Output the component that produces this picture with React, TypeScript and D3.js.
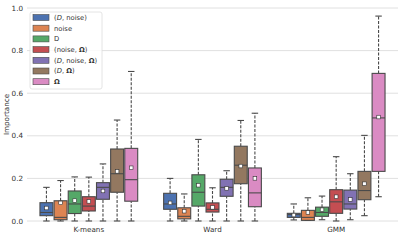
import React, { useEffect, useRef } from 'react';
import * as d3 from 'd3';

const groups = ['K-means', 'Ward', 'GMM'];
const series = ['(D, noise)', 'noise', 'D', '(noise, Ω)', '(D, noise, Ω)', '(D, Ω)', 'Ω'];
const colors = ['#4c72b0', '#dd8452', '#55a868', '#c44e52', '#8172b3', '#937860', '#da8bc3'];
const yTicks = [0, 0.2, 0.4, 0.6, 0.8, 1.0];

// per group, per series: [whiskerLow, q1, median, q3, whiskerHigh, mean]
const kmeansStats = [
  [0, 0.025, 0.04, 0.086, 0.158, 0.061],
  [0, 0.006, 0.017, 0.095, 0.19, 0.085],
  [0, 0.035, 0.08, 0.141, 0.207, 0.096],
  [0, 0.047, 0.07, 0.114, 0.206, 0.092],
  [0, 0.102, 0.158, 0.18, 0.268, 0.141],
  [0, 0.135, 0.222, 0.338, 0.474, 0.233],
  [0, 0.093, 0.194, 0.341, 0.702, 0.25],
];
const wardStats = [
  [0, 0.055, 0.08, 0.13, 0.2, 0.085],
  [0, 0.01, 0.022, 0.062, 0.127, 0.046],
  [0, 0.07, 0.135, 0.217, 0.383, 0.168],
  [0, 0.042, 0.055, 0.085, 0.156, 0.064],
  [0, 0.116, 0.158, 0.196, 0.236, 0.153],
  [0, 0.175, 0.262, 0.351, 0.472, 0.258],
  [0, 0.067, 0.132, 0.249, 0.506, 0.2],
];
const gmmStats = [
  [0.005, 0.017, 0.03, 0.036, 0.08, 0.028],
  [0.003, 0.003, 0.017, 0.05, 0.109, 0.04],
  [0.006, 0.022, 0.04, 0.065, 0.117, 0.053],
  [0, 0.036, 0.09, 0.147, 0.302, 0.114],
  [0.006, 0.056, 0.08, 0.145, 0.222, 0.101],
  [0.025, 0.1, 0.143, 0.233, 0.402, 0.175],
  [0.114, 0.233, 0.484, 0.693, 0.962, 0.488],
];
const allStats = [kmeansStats, wardStats, gmmStats];

const W = 407;
const H = 244;
const margin = { top: 8, right: 9, bottom: 23, left: 27 };

export default function App() {
  const ref = useRef<SVGSVGElement>(null);

  useEffect(() => {
    if (!ref.current) return;
    const svg = d3.select(ref.current);
    svg.selectAll('*').remove();

    const x = d3.scaleBand().domain(groups).range([margin.left, W - margin.right]).paddingInner(0).paddingOuter(0);
    const y = d3.scaleLinear().domain([0, 1]).range([H - margin.bottom, margin.top]);
    const inner = d3.scaleBand().domain(series).range([0, x.bandwidth() * 0.8]);

    const font = 'DejaVu Sans, sans-serif';

    // grid
    svg.append('g')
      .selectAll('line')
      .data(yTicks)
      .join('line')
      .attr('x1', margin.left)
      .attr('x2', W - margin.right)
      .attr('y1', (d) => y(d))
      .attr('y2', (d) => y(d))
      .attr('stroke', '#e0e0e0')
      .attr('stroke-width', 1);

    // y tick labels
    svg.append('g')
      .selectAll('text')
      .data(yTicks)
      .join('text')
      .attr('x', margin.left - 4)
      .attr('y', (d) => y(d))
      .attr('dy', '0.35em')
      .attr('text-anchor', 'end')
      .attr('font-family', font)
      .attr('font-size', 7.2)
      .attr('fill', '#333')
      .text((d) => d.toFixed(1));

    svg.append('text')
      .attr('transform', `translate(6,${(margin.top + H - margin.bottom) / 2}) rotate(-90)`)
      .attr('text-anchor', 'middle')
      .attr('dy', '0.35em')
      .attr('font-family', font)
      .attr('font-size', 7.2)
      .attr('fill', '#333')
      .text('Importance');

    // x labels
    svg.append('g')
      .selectAll('text')
      .data(groups)
      .join('text')
      .attr('x', (d) => x(d)! + x.bandwidth() / 2)
      .attr('y', H - margin.bottom + 11)
      .attr('text-anchor', 'middle')
      .attr('font-family', font)
      .attr('font-size', 7.2)
      .attr('fill', '#333')
      .text((d) => d);

    const edge = '#4a4a4a';
    groups.forEach((g, gi) => {
      const g0 = x(g)! + x.bandwidth() * 0.1;
      series.forEach((s, si) => {
        const [lo, q1, med, q3, hi, mean] = allStats[gi][si];
        const bx = g0 + inner(s)! + 0.6;
        const bw = inner.bandwidth() - 1.2;
        const cx = bx + bw / 2;
        const grp = svg.append('g');
        // whiskers
        [[lo, q1], [q3, hi]].forEach(([a, b]) => {
          grp.append('line')
            .attr('x1', cx).attr('x2', cx)
            .attr('y1', y(a)).attr('y2', y(b))
            .attr('stroke', edge)
            .attr('stroke-width', 1.1)
            .attr('stroke-dasharray', '3,1.5');
        });
        [lo, hi].forEach((v) => {
          grp.append('line')
            .attr('x1', cx - bw / 4).attr('x2', cx + bw / 4)
            .attr('y1', y(v)).attr('y2', y(v))
            .attr('stroke', edge)
            .attr('stroke-width', 1.1);
        });
        grp.append('rect')
          .attr('x', bx)
          .attr('y', y(q3))
          .attr('width', bw)
          .attr('height', y(q1) - y(q3))
          .attr('fill', colors[si])
          .attr('stroke', edge)
          .attr('stroke-width', 1.1);
        grp.append('line')
          .attr('x1', bx).attr('x2', bx + bw)
          .attr('y1', y(med)).attr('y2', y(med))
          .attr('stroke', edge)
          .attr('stroke-width', 1.1);
        grp.append('rect')
          .attr('x', cx - 1.8)
          .attr('y', y(mean) - 1.8)
          .attr('width', 3.6)
          .attr('height', 3.6)
          .attr('fill', 'white')
          .attr('stroke', '#333')
          .attr('stroke-width', 0.6);
      });
    });

    // legend
    const lg = svg.append('g').attr('transform', `translate(30,12)`);
    lg.append('rect')
      .attr('width', 72)
      .attr('height', 77)
      .attr('rx', 2)
      .attr('fill', 'white')
      .attr('fill-opacity', 0.8)
      .attr('stroke', '#ddd')
      .attr('stroke-width', 0.8);
    const items = [
      [['(', false, false], ['D', true, false], [', noise)', false, false]],
      [['noise', false, false]],
      [['D', false, false]],
      [['(noise, ', false, false], ['Ω', false, true], [')', false, false]],
      [['(', false, false], ['D', true, false], [', noise, ', false, false], ['Ω', false, true], [')', false, false]],
      [['(', false, false], ['D', true, false], [', ', false, false], ['Ω', false, true], [')', false, false]],
      [['Ω', false, true]],
    ] as [string, boolean, boolean][][];
    series.forEach((s, i) => {
      const row = lg.append('g').attr('transform', `translate(3,${2.5 + i * 10.7})`);
      row.append('rect')
        .attr('width', 16)
        .attr('height', 6)
        .attr('fill', colors[i])
        .attr('stroke', edge)
        .attr('stroke-width', 0.6);
      const t = row.append('text')
        .attr('x', 21)
        .attr('y', 3)
        .attr('dy', '0.35em')
        .attr('font-family', font)
        .attr('font-size', 6.8)
        .attr('fill', '#333');
      items[i].forEach(([txt, it, bold]) => {
        t.append('tspan')
          .attr('font-style', it ? 'italic' : 'normal')
          .attr('font-weight', bold ? 'bold' : 'normal')
          .text(txt);
      });
    });
  }, []);

  return (
    <svg
      ref={ref}
      width={W}
      height={H}
      style={{ position: 'absolute', left: 0, top: 0, background: 'white' }}
    />
  );
}
